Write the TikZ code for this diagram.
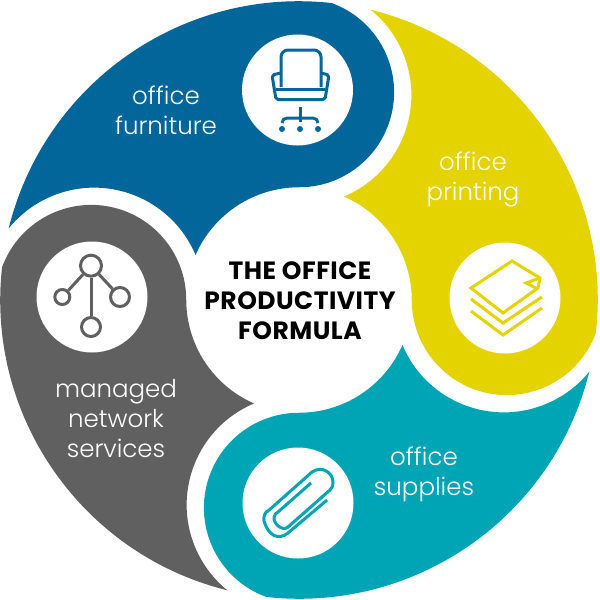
\documentclass[tikz,border=0pt]{standalone}
\usepackage{fontspec}
\setmainfont{Poppins}
\newfontfamily\lightfont{Poppins Light}
\newfontfamily\titlefont{Poppins}[LetterSpace=2]
\definecolor{furnblue}{HTML}{02669A}
\definecolor{printyellow}{HTML}{E5D300}
\definecolor{supplyteal}{HTML}{00A5B5}
\definecolor{netgrey}{HTML}{606060}
\begin{document}
\begin{tikzpicture}[x=1pt, y=-1pt,
    disc/.style={circle, fill=white, minimum size=111pt, inner sep=0pt},
    caption/.style={align=center, white, font=\lightfont\fontsize{24.5}{30}\selectfont},
    icon/.style={line width=3pt, line join=round},
    netnode/.style={circle, draw=netgrey, line width=3pt, inner sep=0pt, fill=white}]

\useasboundingbox (0,0) rectangle (600,600);

% the four blades, one outline turned about the middle
\foreach \bladecolor/\bladeangle in {furnblue/0, printyellow/-90, supplyteal/-180, netgrey/-270}
    \fill[\bladecolor, rotate around={\bladeangle:(299,300)}] (8.7,228.4)
        arc[start angle=193.9, end angle=276.3, radius=299]
        arc[start angle=290.1, end angle=450, radius=95]
        arc[start angle=270, end angle=203.6, radius=113]
        arc[start angle=337.2, end angle=219, radius=110] -- cycle;

% white discs
\node[disc] (chairdisc) at (297.5,90) {};
\node[disc] (paperdisc) at (505,298) {};
\node[disc] (clipdisc) at (298,503) {};
\node[disc] (netdisc) at (92,297) {};

% chair
\draw[furnblue, icon, rounded corners=7pt] (281,87) -- (281,50) -- (321,50) -- (321,87);
\draw[furnblue, icon, rounded corners=2pt] (281,73) -- (272,75) -- (276,99.5) -- (325,99.5) -- (329,75) -- (321,73);
\draw[furnblue, icon] (276,89) -- (325,89);
\draw[furnblue, icon] (300,107) -- (300,122);
\draw[furnblue, icon, rounded corners=5pt] (282,123) -- (282,118) -- (318,118) -- (318,123);
\foreach \x in {282,300,318}
    \fill[furnblue] (\x,129) circle (3pt);

% paper stack
\draw[printyellow, icon, line join=miter] (471,288) -- (512,261) -- (540,278) -- (538,288) -- (503,313) -- cycle;
\draw[printyellow, icon, line join=miter] (540,278) -- (526,283) -- (536,288);
\draw[printyellow, icon, line join=miter] (471,299) -- (503,323) -- (542,297);
\draw[printyellow, icon, line join=miter] (471,311) -- (503,335) -- (542,308);

% paper clip
\draw[supplyteal, icon] (327,500) -- (288,533)
    .. controls (278,541) and (268,535) .. (264,521)
    .. controls (263,516) and (266,511) .. (268,511)
    -- (312,472)
    .. controls (322,465) and (333,473) .. (333,482)
    .. controls (333,486) and (332,488) .. (330,490)
    -- (288,527)
    .. controls (282,532) and (273,523) .. (274,517)
    .. controls (275,514) and (276,513) .. (278,512)
    -- (311,483);

% network
\node[netnode, minimum size=21pt] (nettop) at (91,265.7) {};
\node[netnode, minimum size=15pt] (netleft) at (62.3,297) {};
\node[netnode, minimum size=19pt] (netright) at (120,297) {};
\node[netnode, minimum size=19pt] (netbottom) at (91,327) {};
\draw[netgrey, line width=3pt] (nettop) -- (netbottom);
\draw[netgrey, line width=3pt] (nettop) -- (netleft);
\draw[netgrey, line width=3pt] (nettop) -- (netright);

% captions
\node[caption] (furniture) at (166,110) {office\\furniture};
\node[caption] (printing) at (473,180) {office\\printing};
\node[caption] (supplies) at (424,474) {office\\supplies};
\node[caption] (network) at (116,419) {managed\\network\\services};
\node[align=center, font=\titlefont\bfseries\fontsize{25}{30}\selectfont] (formula) at (300,301) {THE OFFICE\\PRODUCTIVITY\\FORMULA};
\end{tikzpicture}
\end{document}
